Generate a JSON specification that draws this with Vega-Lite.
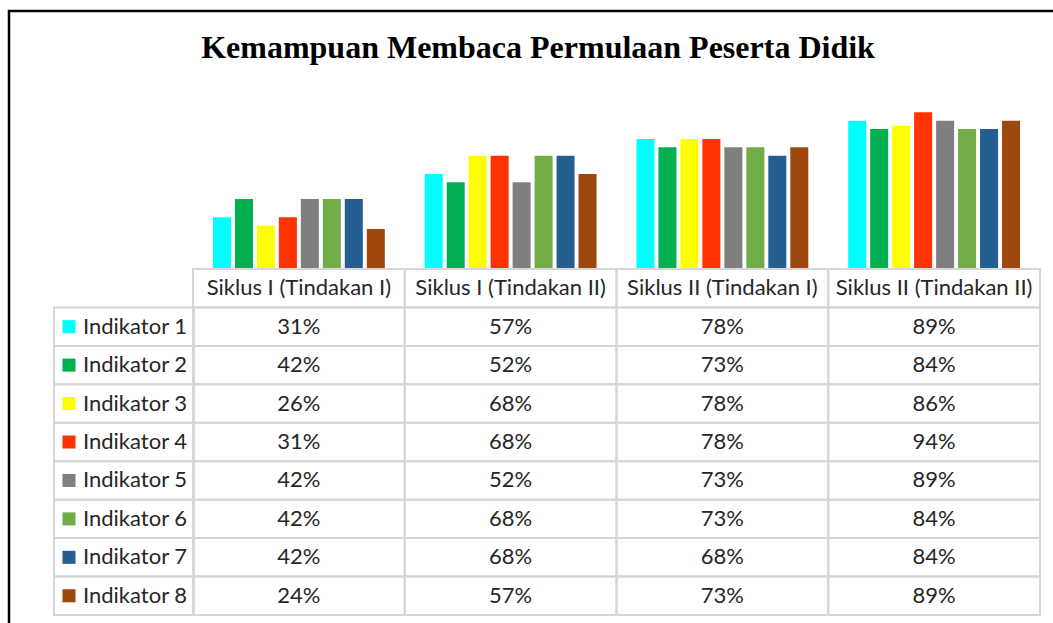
{
  "$schema": "https://vega.github.io/schema/vega-lite/v6.json",
  "width": 1046,
  "height": 614,
  "autosize": {"type": "none"},
  "padding": {"left": 9, "top": 11, "right": 0, "bottom": 0},
  "background": "white",
  "config": {"view": {"stroke": "black", "strokeWidth": 2.5}, "font": "Lato"},
  "title": {"text": "Kemampuan Membaca Permulaan Peserta Didik", "font": "Liberation Serif", "fontSize": 32, "fontWeight": "bold", "color": "black", "anchor": "middle", "frame": "group", "offset": -79, "baseline": "alphabetic", "dx": 6},
  "datasets": {
    "vals": [
      {"cat": "Siklus I (Tindakan I)", "ind": "Indikator 1", "value": 0.31},
      {"cat": "Siklus I (Tindakan I)", "ind": "Indikator 2", "value": 0.42},
      {"cat": "Siklus I (Tindakan I)", "ind": "Indikator 3", "value": 0.26},
      {"cat": "Siklus I (Tindakan I)", "ind": "Indikator 4", "value": 0.31},
      {"cat": "Siklus I (Tindakan I)", "ind": "Indikator 5", "value": 0.42},
      {"cat": "Siklus I (Tindakan I)", "ind": "Indikator 6", "value": 0.42},
      {"cat": "Siklus I (Tindakan I)", "ind": "Indikator 7", "value": 0.42},
      {"cat": "Siklus I (Tindakan I)", "ind": "Indikator 8", "value": 0.24},
      {"cat": "Siklus I (Tindakan II)", "ind": "Indikator 1", "value": 0.57},
      {"cat": "Siklus I (Tindakan II)", "ind": "Indikator 2", "value": 0.52},
      {"cat": "Siklus I (Tindakan II)", "ind": "Indikator 3", "value": 0.68},
      {"cat": "Siklus I (Tindakan II)", "ind": "Indikator 4", "value": 0.68},
      {"cat": "Siklus I (Tindakan II)", "ind": "Indikator 5", "value": 0.52},
      {"cat": "Siklus I (Tindakan II)", "ind": "Indikator 6", "value": 0.68},
      {"cat": "Siklus I (Tindakan II)", "ind": "Indikator 7", "value": 0.68},
      {"cat": "Siklus I (Tindakan II)", "ind": "Indikator 8", "value": 0.57},
      {"cat": "Siklus II (Tindakan I)", "ind": "Indikator 1", "value": 0.78},
      {"cat": "Siklus II (Tindakan I)", "ind": "Indikator 2", "value": 0.73},
      {"cat": "Siklus II (Tindakan I)", "ind": "Indikator 3", "value": 0.78},
      {"cat": "Siklus II (Tindakan I)", "ind": "Indikator 4", "value": 0.78},
      {"cat": "Siklus II (Tindakan I)", "ind": "Indikator 5", "value": 0.73},
      {"cat": "Siklus II (Tindakan I)", "ind": "Indikator 6", "value": 0.73},
      {"cat": "Siklus II (Tindakan I)", "ind": "Indikator 7", "value": 0.68},
      {"cat": "Siklus II (Tindakan I)", "ind": "Indikator 8", "value": 0.73},
      {"cat": "Siklus II (Tindakan II)", "ind": "Indikator 1", "value": 0.89},
      {"cat": "Siklus II (Tindakan II)", "ind": "Indikator 2", "value": 0.84},
      {"cat": "Siklus II (Tindakan II)", "ind": "Indikator 3", "value": 0.86},
      {"cat": "Siklus II (Tindakan II)", "ind": "Indikator 4", "value": 0.94},
      {"cat": "Siklus II (Tindakan II)", "ind": "Indikator 5", "value": 0.89},
      {"cat": "Siklus II (Tindakan II)", "ind": "Indikator 6", "value": 0.84},
      {"cat": "Siklus II (Tindakan II)", "ind": "Indikator 7", "value": 0.84},
      {"cat": "Siklus II (Tindakan II)", "ind": "Indikator 8", "value": 0.89}
    ],
    "cats": [
      {"cat": "Siklus I (Tindakan I)"},
      {"cat": "Siklus I (Tindakan II)"},
      {"cat": "Siklus II (Tindakan I)"},
      {"cat": "Siklus II (Tindakan II)"}
    ],
    "inds": [
      {"ind": "Indikator 1"}, {"ind": "Indikator 2"}, {"ind": "Indikator 3"}, {"ind": "Indikator 4"},
      {"ind": "Indikator 5"}, {"ind": "Indikator 6"}, {"ind": "Indikator 7"}, {"ind": "Indikator 8"}
    ]
  },
  "layer": [
    {
      "data": {"name": "vals"},
      "mark": {"type": "bar"},
      "encoding": {
        "x": {"field": "cat", "type": "nominal", "sort": null, "axis": null,
          "scale": {"domain": ["Siklus I (Tindakan I)", "Siklus I (Tindakan II)", "Siklus II (Tindakan I)", "Siklus II (Tindakan II)"], "range": [184, 1031], "paddingInner": 0, "paddingOuter": 0}},
        "xOffset": {"field": "ind", "type": "nominal", "sort": null, "scale": {"paddingInner": 0.18, "paddingOuter": 0.908}},
        "y": {"field": "value", "type": "quantitative", "axis": null, "scale": {"domain": [0, 1], "range": [258, 91.3]}},
        "color": {"field": "ind", "type": "nominal", "legend": null,
          "scale": {"domain": ["Indikator 1", "Indikator 2", "Indikator 3", "Indikator 4", "Indikator 5", "Indikator 6", "Indikator 7", "Indikator 8"],
            "range": ["#00FFFF", "#00B050", "#FFFF00", "#FF3300", "#7F7F7F", "#70AD47", "#255E91", "#9E480E"]}}
      }
    },
    {
      "data": {"name": "vals"},
      "mark": {"type": "rect", "fill": "white", "fillOpacity": 0, "stroke": "#d6d6d6", "strokeWidth": 2},
      "encoding": {
        "x": {"field": "cat", "type": "nominal", "sort": null, "axis": null,
          "scale": {"domain": ["Siklus I (Tindakan I)", "Siklus I (Tindakan II)", "Siklus II (Tindakan I)", "Siklus II (Tindakan II)"], "range": [184, 1031], "paddingInner": 0, "paddingOuter": 0}},
        "y": {"field": "ind", "type": "nominal", "sort": null, "axis": null,
          "scale": {"domain": ["header", "Indikator 1", "Indikator 2", "Indikator 3", "Indikator 4", "Indikator 5", "Indikator 6", "Indikator 7", "Indikator 8"], "range": [258, 604], "paddingInner": 0, "paddingOuter": 0}}
      }
    },
    {
      "data": {"name": "cats"},
      "mark": {"type": "rect", "fill": "white", "fillOpacity": 0, "stroke": "#d6d6d6", "strokeWidth": 2},
      "encoding": {
        "x": {"field": "cat", "type": "nominal", "sort": null, "axis": null,
          "scale": {"domain": ["Siklus I (Tindakan I)", "Siklus I (Tindakan II)", "Siklus II (Tindakan I)", "Siklus II (Tindakan II)"], "range": [184, 1031], "paddingInner": 0, "paddingOuter": 0}},
        "y": {"datum": "header", "type": "nominal", "axis": null,
          "scale": {"domain": ["header", "Indikator 1", "Indikator 2", "Indikator 3", "Indikator 4", "Indikator 5", "Indikator 6", "Indikator 7", "Indikator 8"], "range": [258, 604], "paddingInner": 0, "paddingOuter": 0}}
      }
    },
    {
      "data": {"name": "inds"},
      "mark": {"type": "rect", "fill": "white", "fillOpacity": 0, "stroke": "#d6d6d6", "strokeWidth": 2},
      "encoding": {
        "x": {"datum": "label", "type": "nominal", "axis": null,
          "scale": {"domain": ["label"], "range": [45, 185], "paddingInner": 0, "paddingOuter": 0}},
        "y": {"field": "ind", "type": "nominal", "sort": null, "axis": null,
          "scale": {"domain": ["header", "Indikator 1", "Indikator 2", "Indikator 3", "Indikator 4", "Indikator 5", "Indikator 6", "Indikator 7", "Indikator 8"], "range": [258, 604], "paddingInner": 0, "paddingOuter": 0}}
      }
    },
    {
      "data": {"name": "vals"},
      "mark": {"type": "text", "fontSize": 22, "color": "#262626", "baseline": "middle"},
      "encoding": {
        "x": {"field": "cat", "type": "nominal", "sort": null, "axis": null,
          "scale": {"domain": ["Siklus I (Tindakan I)", "Siklus I (Tindakan II)", "Siklus II (Tindakan I)", "Siklus II (Tindakan II)"], "range": [184, 1031], "paddingInner": 0, "paddingOuter": 0}},
        "y": {"field": "ind", "type": "nominal", "sort": null, "axis": null,
          "scale": {"domain": ["header", "Indikator 1", "Indikator 2", "Indikator 3", "Indikator 4", "Indikator 5", "Indikator 6", "Indikator 7", "Indikator 8"], "range": [258, 604], "paddingInner": 0, "paddingOuter": 0}},
        "text": {"field": "value", "type": "quantitative", "format": ".0%"}
      }
    },
    {
      "data": {"name": "cats"},
      "mark": {"type": "text", "fontSize": 22, "color": "#262626", "baseline": "middle"},
      "encoding": {
        "x": {"field": "cat", "type": "nominal", "sort": null, "axis": null,
          "scale": {"domain": ["Siklus I (Tindakan I)", "Siklus I (Tindakan II)", "Siklus II (Tindakan I)", "Siklus II (Tindakan II)"], "range": [184, 1031], "paddingInner": 0, "paddingOuter": 0}},
        "y": {"datum": "header", "type": "nominal", "axis": null,
          "scale": {"domain": ["header", "Indikator 1", "Indikator 2", "Indikator 3", "Indikator 4", "Indikator 5", "Indikator 6", "Indikator 7", "Indikator 8"], "range": [258, 604], "paddingInner": 0, "paddingOuter": 0}},
        "text": {"field": "cat", "type": "nominal"}
      }
    },
    {
      "data": {"name": "inds"},
      "mark": {"type": "square", "size": 170, "opacity": 1, "filled": true, "xOffset": -55},
      "encoding": {
        "x": {"datum": "label", "type": "nominal", "axis": null,
          "scale": {"domain": ["label"], "range": [45, 185], "paddingInner": 0, "paddingOuter": 0}},
        "y": {"field": "ind", "type": "nominal", "sort": null, "axis": null,
          "scale": {"domain": ["header", "Indikator 1", "Indikator 2", "Indikator 3", "Indikator 4", "Indikator 5", "Indikator 6", "Indikator 7", "Indikator 8"], "range": [258, 604], "paddingInner": 0, "paddingOuter": 0}},
        "color": {"field": "ind", "type": "nominal", "legend": null,
          "scale": {"domain": ["Indikator 1", "Indikator 2", "Indikator 3", "Indikator 4", "Indikator 5", "Indikator 6", "Indikator 7", "Indikator 8"],
            "range": ["#00FFFF", "#00B050", "#FFFF00", "#FF3300", "#7F7F7F", "#70AD47", "#255E91", "#9E480E"]}}
      }
    },
    {
      "data": {"name": "inds"},
      "mark": {"type": "text", "fontSize": 22, "color": "#262626", "baseline": "middle", "align": "left", "dx": -41},
      "encoding": {
        "x": {"datum": "label", "type": "nominal", "axis": null,
          "scale": {"domain": ["label"], "range": [45, 185], "paddingInner": 0, "paddingOuter": 0}},
        "y": {"field": "ind", "type": "nominal", "sort": null, "axis": null,
          "scale": {"domain": ["header", "Indikator 1", "Indikator 2", "Indikator 3", "Indikator 4", "Indikator 5", "Indikator 6", "Indikator 7", "Indikator 8"], "range": [258, 604], "paddingInner": 0, "paddingOuter": 0}},
        "text": {"field": "ind", "type": "nominal"}
      }
    }
  ],
  "resolve": {"scale": {"x": "independent", "y": "independent"}}
}
